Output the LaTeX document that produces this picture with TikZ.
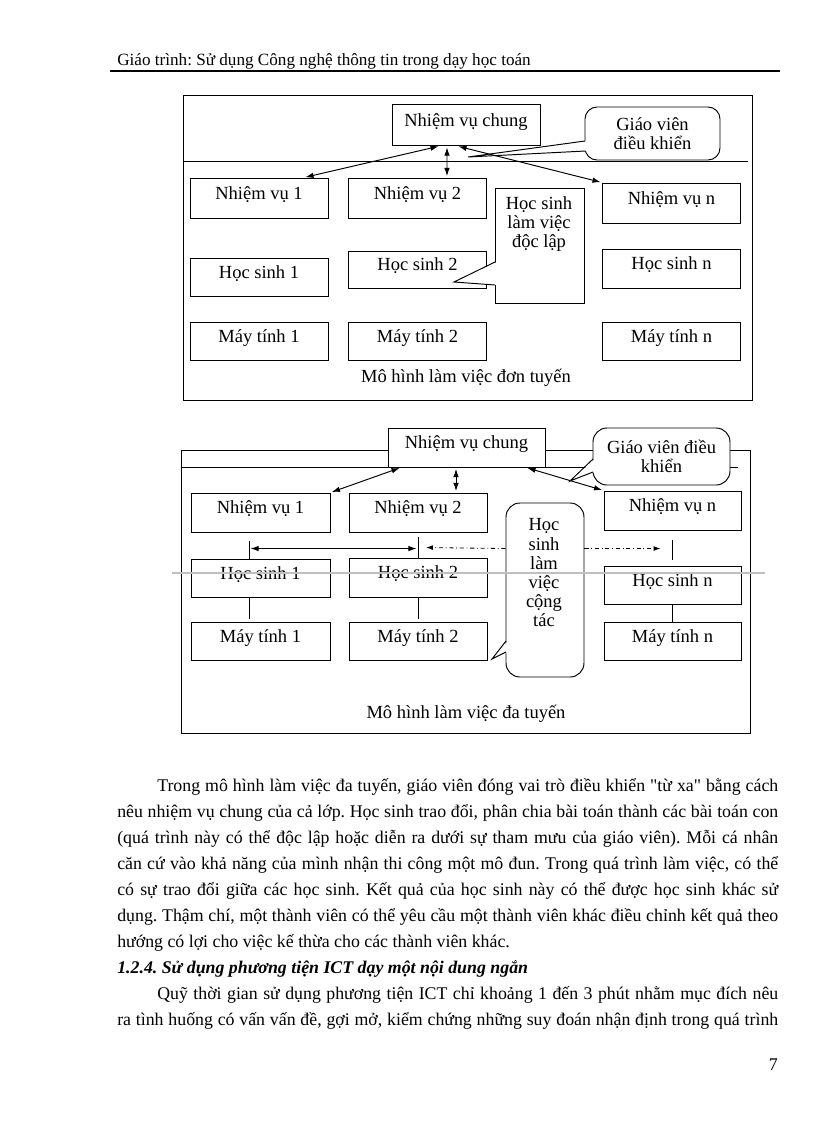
\documentclass[tikz,border=0pt]{standalone}
\usepackage{fontspec}
\setmainfont{Liberation Serif}
\usetikzlibrary{arrows.meta, positioning}
\newlength{\unitpx}
\setlength{\unitpx}{0.7293pt}
\frenchspacing
\tikzset{
  pagetext/.style={anchor=base west, inner sep=0pt, font=\fontsize{13}{16}\selectfont},
  frame/.style={line width=0.7pt},
  taskbox/.style={draw, fill=white, line width=0.7pt, inner sep=0pt,
    minimum width=138\unitpx, minimum height=39\unitpx,
    text height=7pt, text depth=5pt, font=\fontsize{13.5}{16}\selectfont},
  callbox/.style={draw, fill=white, line width=0.7pt, inner sep=0pt},
  calltext/.style={align=center, inner sep=0pt, font=\fontsize{13.5}{14}\selectfont},
  caption/.style={inner sep=0pt, font=\fontsize{13.5}{16}\selectfont},
  link/.style={line width=0.7pt, shorten >=1pt, shorten <=1pt,
    {Latex[length=6pt,width=4pt]}-{Latex[length=6pt,width=4pt]}},
  dotlink/.style={line width=0.6pt, dash dot, -{Latex[length=5pt,width=3.5pt]}},
}
% tail of a callout: base point, tip, base point (tail on the left side)
\newcommand{\calltail}[3]{
  \fill[white] ([xshift=1.5pt]#1) -- (#2) -- ([xshift=1.5pt]#3) -- cycle;
  \draw[frame] (#1) -- (#2) -- (#3);
}
\begin{document}
\begin{tikzpicture}[x=\unitpx, y=-\unitpx]
    \useasboundingbox (0,0) rectangle (816,1123);

    % Header
    \node[pagetext, font=\fontsize{12.5}{16}\selectfont] (hdr) at (117,65) {Giáo trình: Sử dụng Công nghệ thông tin trong dạy học toán};
    \draw[line width=0.8pt] (110,71) -- (780,71);

    % Model 1: frame
    \draw[frame] (183,95) rectangle (752,400);
    \draw[frame] (183,161) -- (748,161);

    % Model 1: boxes
    \node[taskbox, minimum width=148\unitpx, minimum height=41\unitpx] (a-nvc) at (466,125) {Nhiệm vụ chung};
    \node[taskbox, minimum height=40\unitpx] (a-nv1) at (259,198) {Nhiệm vụ 1};
    \node[taskbox, minimum height=40\unitpx] (a-nv2) at (417.5,198) {Nhiệm vụ 2};
    \node[taskbox, minimum height=40\unitpx] (a-nvn) at (671.5,203) {Nhiệm vụ n};
    \node[taskbox, minimum height=38\unitpx] (a-hs1) at (259,277) {Học sinh 1};
    \node[taskbox, minimum height=37\unitpx] (a-hs2) at (417.5,269.5) {Học sinh 2};
    \node[taskbox] (a-hsn) at (671.5,268.5) {Học sinh n};
    \node[taskbox, minimum height=38\unitpx] (a-mt1) at (259,341) {Máy tính 1};
    \node[taskbox, minimum height=38\unitpx] (a-mt2) at (417.5,341) {Máy tính 2};
    \node[taskbox, minimum height=38\unitpx] (a-mtn) at (671.5,341) {Máy tính n};
    \node[caption] (a-cap) at (466,378) {Mô hình làm việc đơn tuyến};

    % Model 1: callouts
    \node[callbox, calltext, rounded corners=12\unitpx, minimum width=135\unitpx, minimum height=53\unitpx] (a-gv) at (652.5,133.5) {Giáo viên\\điều khiển};
    \coordinate (a-gv-b1) at (585,141);
    \coordinate (a-gv-b2) at (585.5,151);
    \coordinate (a-gv-tip) at (468,157);
    \calltail{a-gv-b1}{a-gv-tip}{a-gv-b2}
    \node[callbox, minimum width=89\unitpx, minimum height=115\unitpx] (a-hsdl) at (539.5,245.5) {};
    \node[calltext] (a-hsdl-txt) at (539,224) {Học sinh\\làm việc\\độc lập};
    \coordinate (a-hsdl-b1) at (495,262);
    \coordinate (a-hsdl-b2) at (495,285);
    \coordinate (a-hsdl-tip) at (454,282);
    \calltail{a-hsdl-b1}{a-hsdl-tip}{a-hsdl-b2}

    % Model 1: links
    \draw[link] ([xshift=-26\unitpx]a-nvc.south) -- ([xshift=45\unitpx]a-nv1.north);
    \draw[link] ([xshift=-19\unitpx]a-nvc.south) -- ([xshift=29.5\unitpx]a-nv2.north);
    \draw[link] ([xshift=-9\unitpx]a-nvc.south) -- (a-nvn.north west);

    % Model 2: frame
    \draw[frame] (181,450) rectangle (750,733);
    \draw[frame] (181,467) -- (738,467);

    % Model 2: boxes
    \node[taskbox, minimum width=157\unitpx] (b-nvc) at (466.5,447.5) {Nhiệm vụ chung};
    \node[taskbox, minimum width=139\unitpx] (b-nv1) at (260.5,512.5) {Nhiệm vụ 1};
    \node[taskbox] (b-nv2) at (418,512.5) {Nhiệm vụ 2};
    \node[taskbox, minimum width=137\unitpx] (b-nvn) at (672.5,510.5) {Nhiệm vụ n};
    \node[taskbox, minimum width=139\unitpx, minimum height=38\unitpx] (b-hs1) at (260.5,578) {Học sinh 1};
    \node[taskbox] (b-hs2) at (418,577.5) {Học sinh 2};
    \node[taskbox, minimum width=137\unitpx, minimum height=38\unitpx] (b-hsn) at (672.5,585) {Học sinh n};
    \node[taskbox, minimum width=139\unitpx, minimum height=38\unitpx] (b-mt1) at (260.5,641) {Máy tính 1};
    \node[taskbox, minimum height=38\unitpx] (b-mt2) at (418,641) {Máy tính 2};
    \node[taskbox, minimum width=137\unitpx, minimum height=38\unitpx] (b-mtn) at (672.5,641) {Máy tính n};
    \node[caption] (b-cap) at (466,714) {Mô hình làm việc đa tuyến};

    % Model 2: callouts
    \node[callbox, calltext, rounded corners=14\unitpx, minimum width=137\unitpx, minimum height=57\unitpx] (b-gv) at (661.5,456.5) {Giáo viên điều\\khiển};
    \coordinate (b-gv-b1) at (593,459);
    \coordinate (b-gv-b2) at (593,472);
    \coordinate (b-gv-tip) at (570,481);
    \calltail{b-gv-b1}{b-gv-tip}{b-gv-b2}
    \node[callbox, rounded corners=14\unitpx, minimum width=78\unitpx, minimum height=174\unitpx] (b-hsct) at (545,590) {};
    \node[calltext] (b-hsct-txt) at (544,573) {Học\\sinh\\làm\\việc\\cộng\\tác};
    \coordinate (b-hsct-b1) at (506,641);
    \coordinate (b-hsct-b2) at (506,652);
    \coordinate (b-hsct-tip) at (492,659);
    \calltail{b-hsct-b1}{b-hsct-tip}{b-hsct-b2}

    % Model 2: links
    \draw[link] ([xshift=-65.5\unitpx]b-nvc.south) -- (b-nv1.north east);
    \draw[link] ([xshift=-10.5\unitpx]b-nvc.south) -- ([xshift=38\unitpx]b-nv2.north);
    \draw[link] ([xshift=59.5\unitpx]b-nvc.south) -- (b-nvn.north west);
    \coordinate (b-k1) at ([xshift=-11.5\unitpx]b-hs1.north);
    \draw[frame] (b-k1) -- ++(0,-18);
    \draw[frame] (b-hs2.north) -- ++(0,-21);
    \draw[frame] ([yshift=6\unitpx]b-hsn.north) -- ++(0,-20);
    \draw[link] ([yshift=10\unitpx]b-k1) -- ([yshift=10\unitpx]b-k1 -| b-hs2.north);
    \draw[dotlink] ([yshift=10\unitpx]b-k1 -| b-hsct.west) -- ([xshift=8\unitpx,yshift=10\unitpx]b-hs2.north);
    \draw[dotlink] ([yshift=10\unitpx]b-k1 -| b-hsct.east) -- ([xshift=-12\unitpx,yshift=10\unitpx]b-k1 -| b-hsn.north);
    \draw[frame, shorten >=3\unitpx] (b-hs1.south -| b-k1) -- (b-mt1.north -| b-k1);
    \draw[frame, shorten >=3\unitpx] (b-hs2.south) -- (b-mt2.north);
    \draw[frame] (b-hsn.south) -- (b-mtn.north);
    % scan line across model 2
    \draw[gray!50, line width=0.8pt] (172,573) -- (765,573);

    % Body text
    \node[pagetext] (l1) at (157,791) {\makebox[621\unitpx][s]{Trong mô hình làm việc đa tuyến, giáo viên đóng vai trò điều khiển \textquotedbl từ xa\textquotedbl{} bằng cách}};
    \node[pagetext] (l2) at (117,817) {\makebox[661\unitpx][s]{nêu nhiệm vụ chung của cả lớp. Học sinh trao đổi, phân chia bài toán thành các bài toán con}};
    \node[pagetext] (l3) at (117,843) {\makebox[661\unitpx][s]{(quá trình này có thể độc lập hoặc diễn ra dưới sự tham mưu của giáo viên). Mỗi cá nhân}};
    \node[pagetext] (l4) at (117,869) {\makebox[661\unitpx][s]{căn cứ vào khả năng của mình nhận thi công một mô đun. Trong quá trình làm việc, có thể}};
    \node[pagetext] (l5) at (117,895) {\makebox[661\unitpx][s]{có sự trao đổi giữa các học sinh. Kết quả của học sinh này có thể được học sinh khác sử}};
    \node[pagetext] (l6) at (117,921) {\makebox[661\unitpx][s]{dụng. Thậm chí, một thành viên có thể yêu cầu một thành viên khác điều chỉnh kết quả theo}};
    \node[pagetext] (l7) at (117,947) {hướng có lợi cho việc kế thừa cho các thành viên khác.};
    \node[pagetext, font=\fontsize{13}{16}\selectfont\bfseries\itshape] (sec) at (117,973) {1.2.4. Sử dụng phương tiện ICT dạy một nội dung ngắn};
    \node[pagetext] (l8) at (157,999) {\makebox[621\unitpx][s]{Quỹ thời gian sử dụng phương tiện ICT chỉ khoảng 1 đến 3 phút nhằm mục đích nêu}};
    \node[pagetext] (l9) at (117,1025) {\makebox[661\unitpx][s]{ra tình huống có vấn vấn đề, gợi mở, kiểm chứng những suy đoán nhận định trong quá trình}};
    \node[pagetext, anchor=base east] (pgno) at (778,1070) {7};
\end{tikzpicture}
\end{document}
